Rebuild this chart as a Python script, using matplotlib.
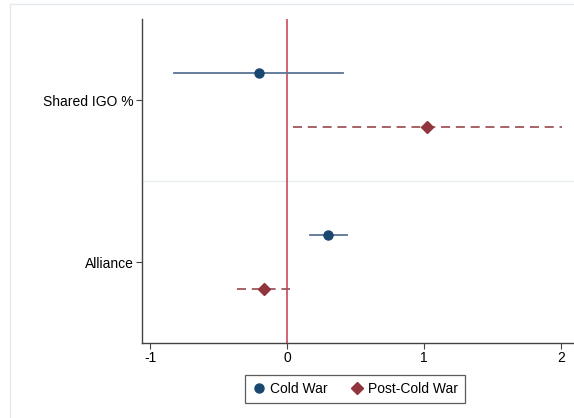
import matplotlib
matplotlib.use("Agg")
import matplotlib.pyplot as plt
from matplotlib.patches import Rectangle
from matplotlib.lines import Line2D

plt.rcParams['font.family'] = ['Liberation Sans', 'DejaVu Sans']

variables = ["Shared IGO %", "Alliance"]
series = ["Cold War", "Post-Cold War"]
# point estimates and confidence intervals per series, in variable order
cold_est = [-0.21, 0.30]
cold_lo = [-0.83, 0.165]
cold_hi = [0.41, 0.44]
post_est = [1.02, -0.17]
post_lo = [0.04, -0.37]
post_hi = [2.01, 0.02]
xticks = [-1, 0, 1, 2]

navy = '#1a476f'
navy_ci = '#5b7494'
maroon = '#90353b'
maroon_ci = '#a0555a'
refline = '#c23b4d'

fig = plt.figure(figsize=(5.74, 4.18), dpi=100)
fig.patch.set_facecolor('white')
fig.add_artist(Rectangle((10/574, -0.1), 1.2, 1.1 - 4/418, transform=fig.transFigure,
                         fill=False, edgecolor='#e3e9ec', linewidth=1.0))

ax = fig.add_axes([142/574, 1 - 343/418, 1 - 142/574, (343 - 19)/418])
centers = [1 + 2*i for i in range(len(variables))]
off = 1/3.0

ax.axhline(2, color='#e6ecee', linewidth=0.9, zorder=0)
ax.axvline(0, color=refline, linewidth=1.1, zorder=1)

for i, c in enumerate(centers):
    ax.plot([cold_lo[i], cold_hi[i]], [c - off, c - off], color=navy_ci, linewidth=1.3, zorder=2)
    ax.plot([post_lo[i], post_hi[i]], [c + off, c + off], color=maroon_ci, linewidth=1.3,
            linestyle=(0, (5, 3.2)), zorder=2)
ax.plot(cold_est, [c - off for c in centers], 'o', color=navy, markersize=6.5, zorder=3,
        linestyle='none')
ax.plot(post_est, [c + off for c in centers], 'D', color=maroon, markersize=6.5, zorder=3,
        linestyle='none')

ax.set_ylim(4, 0)
ax.set_xlim(-1.062, 2.096)
ax.set_yticks(centers)
ax.set_yticklabels(variables, fontsize=10)
ax.set_xticks(xticks)
ax.set_xticklabels([str(t) for t in xticks], fontsize=10)
for s in ['top', 'right']:
    ax.spines[s].set_visible(False)
for s in ['left', 'bottom']:
    ax.spines[s].set_color('#444444')
    ax.spines[s].set_linewidth(1.0)
ax.tick_params(axis='both', direction='out', length=4, width=0.8, color='#444444', pad=2)

handles = [Line2D([], [], marker='o', color=navy, linestyle='none', markersize=6.5),
           Line2D([], [], marker='D', color=maroon, linestyle='none', markersize=6.5)]
leg = fig.legend(handles, series, loc='center', bbox_to_anchor=(355/574, 1 - 389/418),
                 ncol=2, fontsize=10, frameon=True, fancybox=False, handletextpad=0.3,
                 columnspacing=1.6, handlelength=1.0, borderpad=0.5)
leg.get_frame().set_edgecolor('#333333')
leg.get_frame().set_linewidth(0.9)

fig.savefig('out.png', dpi=100)
